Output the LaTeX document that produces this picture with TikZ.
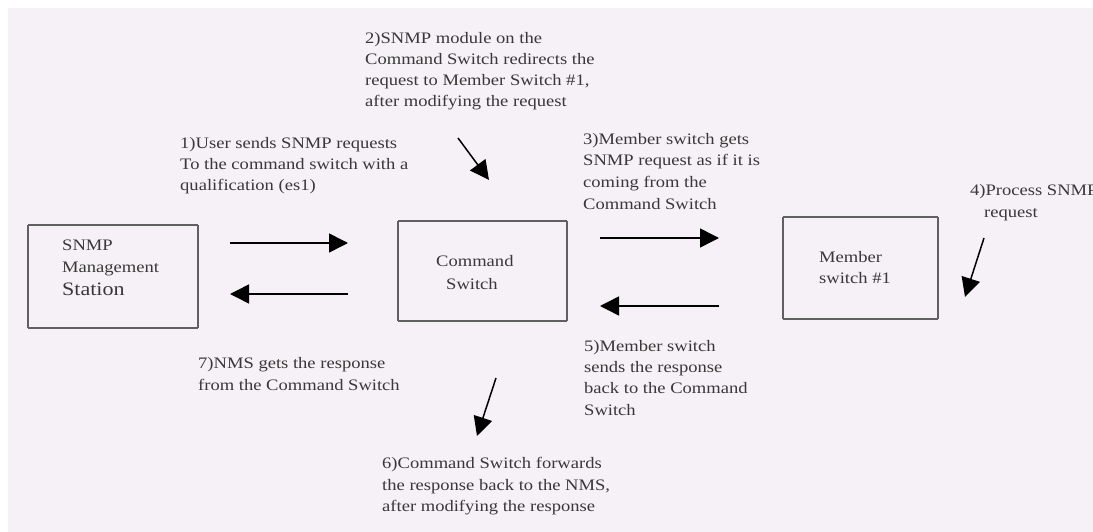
\documentclass[tikz,border=0pt]{standalone}
\usepackage{fontspec}
\setmainfont{Liberation Serif}[FakeStretch=1.16]
\usetikzlibrary{arrows.meta}
\definecolor{PaperBg}{RGB}{246,241,246}
\definecolor{TextGray}{RGB}{56,56,56}
\definecolor{BoxGray}{RGB}{96,96,96}
\tikzstyle{none}=[inner sep=0pt]
\tikzstyle{line}=[inner sep=0pt,anchor=west,text=TextGray,text height=11pt,text depth=3pt]
\tikzstyle{box}=[draw=BoxGray,line width=1.5]
\tikzstyle{arrow}=[-{Triangle[length=19pt,width=19pt]},draw=black,line width=1.5]

\begin{document}
\begin{tikzpicture}[x=1pt,y=-1pt,font=\fontsize{16}{21}\selectfont]
 \useasboundingbox (0,0) rectangle (1093,532);
 \fill [PaperBg] (8,8) rectangle (1093,532);
 \node [style=none] (0) at (28, 225) {};
 \node [style=none] (1) at (198, 225) {};
 \node [style=none] (2) at (198, 328) {};
 \node [style=none] (3) at (28, 328) {};
 \node [style=none] (4) at (398, 221) {};
 \node [style=none] (5) at (567, 221) {};
 \node [style=none] (6) at (567, 321) {};
 \node [style=none] (7) at (398, 321) {};
 \node [style=none] (8) at (783, 217) {};
 \node [style=none] (9) at (938, 217) {};
 \node [style=none] (10) at (938, 319) {};
 \node [style=none] (11) at (783, 319) {};
 \node [style=none] (12) at (230, 243) {};
 \node [style=none] (13) at (348, 243) {};
 \node [style=none] (14) at (348, 294) {};
 \node [style=none] (15) at (230, 294) {};
 \node [style=none] (16) at (600, 238) {};
 \node [style=none] (17) at (719, 238) {};
 \node [style=none] (18) at (719, 306) {};
 \node [style=none] (19) at (600, 306) {};
 \node [style=none] (20) at (458, 138) {};
 \node [style=none] (21) at (489, 180) {};
 \node [style=none] (22) at (984, 238) {};
 \node [style=none] (23) at (965, 297) {};
 \node [style=none] (24) at (496, 378) {};
 \node [style=none] (25) at (477, 436) {};
 \node [style=line] (26) at (365, 40)  {2)SNMP module on the};
 \node [style=line] (27) at (365, 61)  {Command Switch redirects the};
 \node [style=line] (28) at (365, 82)  {request to Member Switch \#1,};
 \node [style=line] (29) at (365, 103) {after modifying the request};
 \node [style=line] (30) at (180, 145) {1)User sends SNMP requests};
 \node [style=line] (31) at (180, 166) {To the command switch with a};
 \node [style=line] (32) at (180, 187) {qualification (es1)};
 \node [style=line] (33) at (583, 141) {3)Member switch gets};
 \node [style=line] (34) at (583, 162) {SNMP request as if it is};
 \node [style=line] (35) at (583, 184) {coming from the};
 \node [style=line] (36) at (583, 205) {Command Switch};
 \node [style=line] (37) at (970, 192) {4)Process SNMP};
 \node [style=line] (38) at (984, 213) {request};
 \node [style=line] (39) at (62, 246)  {SNMP};
 \node [style=line] (40) at (62, 268)  {Management};
 \node [style=line] (41) at (62, 291)  {\fontsize{19}{21}\selectfont Station};
 \node [style=line] (42) at (436, 262) {Command};
 \node [style=line] (43) at (446, 285) {Switch};
 \node [style=line] (44) at (819, 258) {Member};
 \node [style=line] (45) at (819, 279) {switch \#1};
 \node [style=line] (46) at (198, 364) {7)NMS gets the response};
 \node [style=line] (47) at (198, 386) {from the Command Switch};
 \node [style=line] (48) at (584, 347) {5)Member switch};
 \node [style=line] (49) at (584, 368) {sends the response};
 \node [style=line] (50) at (584, 389) {back to the Command};
 \node [style=line] (51) at (584, 411) {Switch};
 \node [style=line] (52) at (382, 464) {6)Command Switch forwards};
 \node [style=line] (53) at (382, 486) {the response back to the NMS,};
 \node [style=line] (54) at (382, 507) {after modifying the response};
 \draw [style=box] (0.center) to (1.center);
 \draw [style=box] (1.center) to (2.center);
 \draw [style=box] (2.center) to (3.center);
 \draw [style=box] (3.center) to (0.center);
 \draw [style=box] (4.center) to (5.center);
 \draw [style=box] (5.center) to (6.center);
 \draw [style=box] (6.center) to (7.center);
 \draw [style=box] (7.center) to (4.center);
 \draw [style=box] (8.center) to (9.center);
 \draw [style=box] (9.center) to (10.center);
 \draw [style=box] (10.center) to (11.center);
 \draw [style=box] (11.center) to (8.center);
 \draw [style=arrow] (12.center) to (13.center);
 \draw [style=arrow] (14.center) to (15.center);
 \draw [style=arrow] (16.center) to (17.center);
 \draw [style=arrow] (18.center) to (19.center);
 \draw [style=arrow] (20.center) to (21.center);
 \draw [style=arrow] (22.center) to (23.center);
 \draw [style=arrow] (24.center) to (25.center);
\end{tikzpicture}
\end{document}
